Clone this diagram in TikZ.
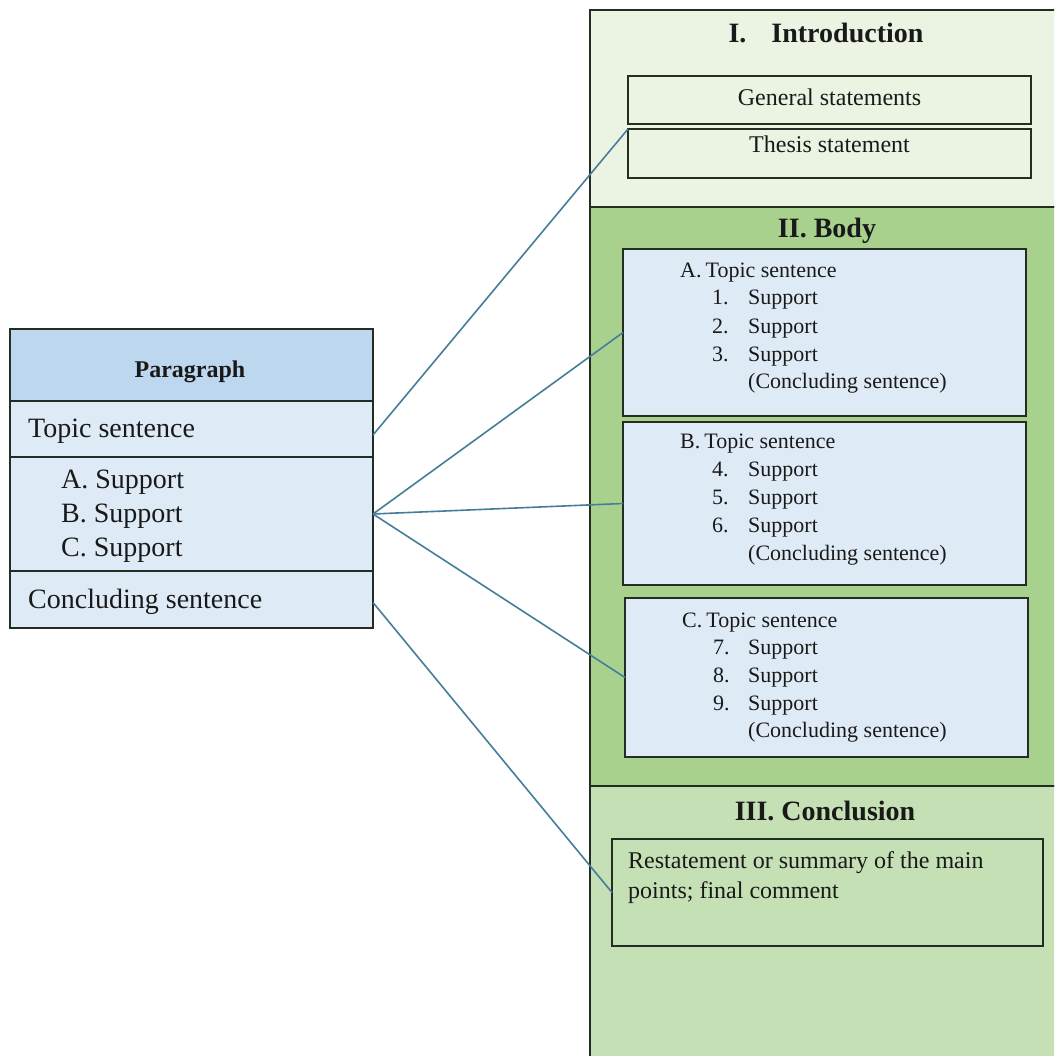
\documentclass[tikz,border=0pt]{standalone}
\usepackage{fontspec}
\setmainfont{Liberation Serif}
\definecolor{introfill}{RGB}{235,244,227}
\definecolor{bodyfill}{RGB}{169,209,142}
\definecolor{conclfill}{RGB}{197,224,180}
\definecolor{paleblue}{RGB}{222,235,247}
\definecolor{headblue}{RGB}{189,215,238}
\definecolor{edge}{RGB}{35,45,35}
\definecolor{link}{RGB}{70,125,155}
\definecolor{ink}{RGB}{25,25,25}
\tikzset{
  panel/.style={draw=edge, line width=1.3pt, inner sep=0pt, outer sep=0pt, anchor=north west},
  conn/.style={draw=link, line width=1.6pt},
  txt/.style={inner sep=0pt, anchor=base west, text=ink},
  ctxt/.style={inner sep=0pt, anchor=base, text=ink},
  bodytxt/.style={txt, font=\fontsize{22}{26}\selectfont},
  tabtxt/.style={txt, font=\fontsize{28}{32}\selectfont},
  headtxt/.style={ctxt, font=\fontsize{28}{32}\selectfont\bfseries},
  midtxt/.style={font=\fontsize{24}{28}\selectfont}
}
\newcommand{\boxat}[6]{% name, style, x1, y1, x2, y2
  \node[panel, #2, minimum width={(#5-#3)*1pt}, minimum height={(#6-#4)*1pt}] (#1) at (#3,#4) {};}
\begin{document}
\begin{tikzpicture}[x=1pt, y=-1pt]
\useasboundingbox[fill=white] (0,0) rectangle (1054,1056);
\clip (0,0) rectangle (1054,1056);
% right column sections
\boxat{intro}{fill=introfill}{590}{10}{1070}{207}
\boxat{body}{fill=bodyfill}{590}{207}{1070}{786}
\boxat{concl}{fill=conclfill}{590}{786}{1070}{1080}
% intro
\node[headtxt] (introhead) at (826,43) {I.\hspace{25pt}Introduction};
\boxat{general}{fill=introfill}{628}{76}{1031}{124}
\boxat{thesis}{fill=introfill}{628}{129}{1031}{178}
\node[ctxt, midtxt] (generalt) at (829.5,106) {General statements};
\node[ctxt, midtxt] (thesist) at (829.5,153) {Thesis statement};
% body
\node[headtxt] (bodyhead) at (827,238) {II. Body};
\boxat{boxa}{fill=paleblue}{623}{249}{1026}{416}
\boxat{boxb}{fill=paleblue}{623}{422}{1026}{585}
\boxat{boxc}{fill=paleblue}{625}{598}{1028}{757}
% box A
\node[bodytxt] (a0) at (680,277) {A.\hspace{4pt}Topic sentence};
\node[bodytxt] (a1n) at (712,305) {1.};
\node[bodytxt] (a1) at (748,305) {Support};
\node[bodytxt] (a2n) at (712,333) {2.};
\node[bodytxt] (a2) at (748,333) {Support};
\node[bodytxt] (a3n) at (712,361) {3.};
\node[bodytxt] (a3) at (748,361) {Support};
\node[bodytxt] (a4) at (748,388) {(Concluding sentence)};
% box B
\node[bodytxt] (b0) at (680,448) {B.\hspace{4pt}Topic sentence};
\node[bodytxt] (b1n) at (712,476) {4.};
\node[bodytxt] (b1) at (748,476) {Support};
\node[bodytxt] (b2n) at (712,504) {5.};
\node[bodytxt] (b2) at (748,504) {Support};
\node[bodytxt] (b3n) at (712,532) {6.};
\node[bodytxt] (b3) at (748,532) {Support};
\node[bodytxt] (b4) at (748,560) {(Concluding sentence)};
% box C
\node[bodytxt] (c0) at (682,627) {C.\hspace{4pt}Topic sentence};
\node[bodytxt] (c1n) at (713,654) {7.};
\node[bodytxt] (c1) at (748,654) {Support};
\node[bodytxt] (c2n) at (713,682) {8.};
\node[bodytxt] (c2) at (748,682) {Support};
\node[bodytxt] (c3n) at (713,710) {9.};
\node[bodytxt] (c3) at (748,710) {Support};
\node[bodytxt] (c4) at (748,737) {(Concluding sentence)};
% conclusion
\node[headtxt] (conclhead) at (825,820) {III. Conclusion};
\boxat{conclbox}{fill=conclfill}{612}{839}{1043}{946}
\node[txt, midtxt] (r1) at (628,868) {Restatement or summary of the main};
\node[txt, midtxt] (r2) at (628,898) {points; final comment};
% left table
\boxat{phead}{fill=headblue}{10}{329}{373}{401}
\boxat{ptopic}{fill=paleblue}{10}{401}{373}{457}
\boxat{psupp}{fill=paleblue}{10}{457}{373}{571}
\boxat{pconc}{fill=paleblue}{10}{571}{373}{628}
\node[ctxt, font=\fontsize{24}{28}\selectfont\bfseries] (pheadt) at (190,377) {Paragraph};
\node[tabtxt] (ptopict) at (28,437) {Topic sentence};
\node[tabtxt] (sa) at (61,488) {A. Support};
\node[tabtxt] (sb) at (61,522) {B. Support};
\node[tabtxt] (sc) at (61,556) {C. Support};
\node[tabtxt] (pconct) at (28,608) {Concluding sentence};
% connectors
\draw[conn] ([yshift=-6pt]ptopic.east) -- (thesis.north west);
\draw[conn] (psupp.east) -- (boxa.west);
\draw[conn] (psupp.east) -- (boxb.west);
\draw[conn] (psupp.east) -- (boxc.west);
\draw[conn] ([yshift=-3pt]pconc.east) -- (conclbox.west);
\end{tikzpicture}
\end{document}
